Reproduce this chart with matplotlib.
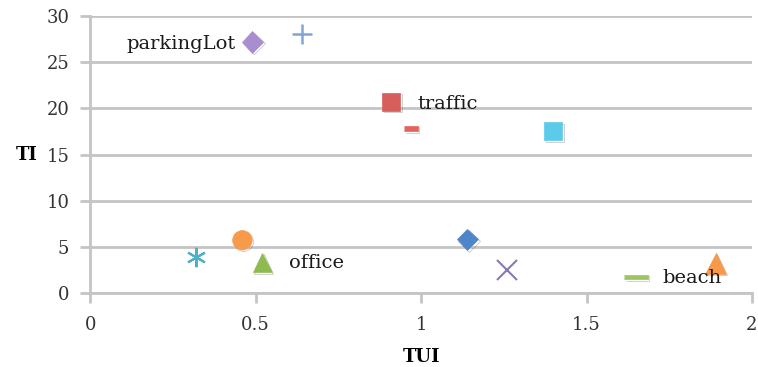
import matplotlib.pyplot as plt
import matplotlib.patheffects as pe

plt.rcParams['font.family'] = ['DejaVu Serif']

# each point: TUI, TI
tui = [0.49, 0.64, 0.91, 0.97, 1.40, 0.46, 0.32, 0.52, 1.14, 1.26, 1.65, 1.89]
ti = [27.2, 28.1, 20.7, 17.8, 17.5, 5.7, 3.9, 3.3, 5.8, 2.5, 1.7, 3.2]
names = ['parkingLot', '', 'traffic', '', '', '', '', 'office', '', '', 'beach', '']

dash_s = [(-1, -0.4), (1, -0.4), (1, 0.4), (-1, 0.4)]
dash_l = [(-1, -0.18), (1, -0.18), (1, 0.18), (-1, 0.18)]
styles = [
    dict(marker='D', ms=11, color='#a88dcf'),
    dict(marker='+', ms=15, mew=1.8, color='#7ea6d6'),
    dict(marker='s', ms=13, color='#d65f5b'),
    dict(marker=dash_s, ms=10, color='#e2645f'),
    dict(marker='s', ms=13, color='#5ccbea'),
    dict(marker='o', ms=14, color='#f79a4c'),
    dict(marker='*', ms=15, color='#4bb0c8'),
    dict(marker='^', ms=14, color='#8fba52'),
    dict(marker='D', ms=11, color='#4f86c9'),
    dict(marker='x', ms=15, mew=1.5, color='#8a7ab0'),
    dict(marker=dash_l, ms=17, color='#9dc65e'),
    dict(marker='^', ms=15, color='#f7984a'),
]

fig = plt.figure(figsize=(7.58, 3.67), dpi=100)
ax = fig.add_axes([0.119, 0.202, 0.873, 0.754])

shadow = [pe.SimpleLineShadow(offset=(1, -1), alpha=0.25), pe.Normal()]
for x, y, st in zip(tui, ti, styles):
    st = dict(st)
    c = st.pop('color')
    if st['marker'] in ('+', 'x'):
        ax.plot(x, y, linestyle='none', color=c, **st, zorder=3)
    elif st['marker'] == '*':
        # asterisk drawn as line star
        ax.plot(x, y, linestyle='none', marker=(6, 2, 0), ms=14, mew=1.5,
                color=c, zorder=3)
    else:
        ax.plot(x, y, linestyle='none', color=c, mec=c, mew=0.5, **st,
                zorder=3, path_effects=shadow)

# point labels
lab = dict(va='center', fontsize=14, color='#1a1a1a')
ax.text(tui[0] - 0.05, ti[0] - 0.2, names[0], ha='right', **lab)
ax.text(tui[2] + 0.08, ti[2] - 0.2, names[2], ha='left', **lab)
ax.text(tui[7] + 0.08, ti[7] - 0.1, names[7], ha='left', **lab)
ax.text(tui[10] + 0.08, ti[10] - 0.1, names[10], ha='left', **lab)

ax.set_xlim(0, 2)
ax.set_ylim(0, 30)
ax.set_xticks([0, 0.5, 1, 1.5, 2])
ax.set_xticklabels(['0', '0.5', '1', '1.5', '2'])
ax.set_yticks(range(0, 31, 5))
ax.yaxis.grid(True, color='#c4c4c4', linewidth=2)
ax.set_axisbelow(True)

for s in ['top', 'right']:
    ax.spines[s].set_visible(False)
for s in ['left', 'bottom']:
    ax.spines[s].set_color('#c4c4c4')
    ax.spines[s].set_linewidth(2)
ax.tick_params(axis='both', direction='out', length=7, width=2, color='#c4c4c4',
               labelsize=13, labelcolor='#333333')
ax.tick_params(axis='x', pad=10)
ax.tick_params(axis='y', pad=8)

ax.set_xlabel('TUI', fontsize=13, fontweight='bold', labelpad=10)
ax.set_ylabel('TI', fontsize=13, fontweight='bold', rotation=0, labelpad=14, va='center')

fig.savefig('out.png', dpi=100)
